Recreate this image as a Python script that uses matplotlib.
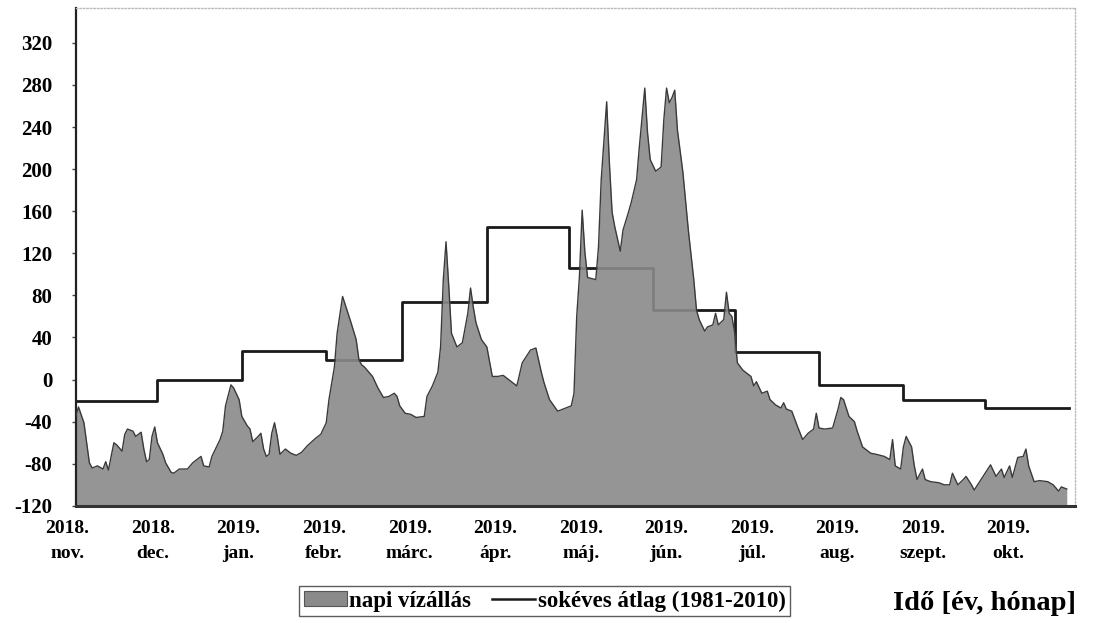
import matplotlib
matplotlib.use('Agg')
import matplotlib.pyplot as plt
from matplotlib.patches import Patch
from matplotlib.lines import Line2D
import numpy as np

# napi vízállás (cm), nap = napok 2018. nov. 1. óta
nap = [0, 1, 3, 5, 6, 8, 10, 11, 12, 13, 14, 15, 17, 18, 19, 21, 22, 24, 25, 26,
       27, 28, 29, 30, 32, 33, 35, 36, 38, 41, 43, 44, 46, 47, 49, 50, 53, 54, 55, 57,
       58, 60, 61, 63, 64, 65, 67, 68, 69, 70, 71, 72, 73, 74, 75, 77, 79, 81, 83, 85,
       88, 90, 92, 93, 95, 96, 98, 99, 101, 103, 104, 105, 106, 107, 109, 111, 113, 115, 117, 118,
       119, 121, 123, 125, 128, 129, 131, 133, 134, 135, 136, 137, 138, 140, 142, 144, 145, 146, 147, 149,
       151, 153, 155, 157, 160, 162, 164, 167, 169, 171, 172, 174, 177, 179, 182, 183, 184, 185, 186, 187,
       188, 191, 192, 193, 195, 196, 197, 198, 200, 201, 203, 204, 206, 207, 209, 210, 211, 213, 215, 216,
       217, 218, 219, 220, 221, 223, 225, 227, 228, 229, 231, 232, 234, 235, 236, 238, 239, 240, 241, 242,
       243, 245, 248, 249, 250, 252, 254, 255, 257, 259, 260, 261, 263, 265, 267, 269, 271, 272, 273, 275,
       278, 280, 281, 282, 284, 286, 287, 289, 292, 294, 297, 299, 300, 301, 303, 304, 305, 307, 308, 309,
       311, 312, 314, 317, 319, 321, 322, 324, 326, 327, 329, 330, 332, 334, 336, 338, 340, 341, 343, 344,
       346, 348, 349, 350, 352, 354, 357, 359, 361, 362, 364]
vizallas = [-35, -26, -41, -79, -84, -82, -85, -78, -86, -73, -60, -62, -68, -52, -47, -49, -54, -50, -66, -78,
            -76, -54, -45, -60, -71, -79, -88, -89, -85, -85, -79, -77, -73, -82, -83, -73, -57, -49, -25, -5,
            -8, -19, -35, -44, -47, -59, -54, -51, -66, -73, -71, -51, -41, -54, -71, -66, -70, -72, -69, -63,
            -56, -52, -41, -19, 12, 44, 79, 71, 55, 38, 19, 14, 12, 9, 3, -8, -17, -16, -13, -16,
            -25, -32, -33, -36, -35, -16, -6, 7, 31, 95, 131, 89, 44, 31, 35, 63, 87, 69, 54, 38,
            31, 3, 3, 4, -2, -6, 16, 28, 30, 7, -3, -19, -30, -28, -25, -13, 60, 98, 161, 121,
            97, 95, 126, 190, 264, 206, 159, 145, 122, 142, 159, 168, 190, 221, 277, 235, 209, 198, 202, 247,
            277, 263, 268, 275, 237, 197, 142, 95, 66, 57, 46, 50, 52, 63, 52, 57, 83, 63, 60, 45,
            16, 9, 3, -6, -2, -13, -11, -19, -24, -27, -22, -28, -30, -44, -57, -51, -47, -32, -46, -47,
            -46, -28, -17, -19, -35, -40, -49, -64, -70, -71, -73, -76, -57, -82, -85, -64, -54, -64, -82, -95,
            -85, -95, -97, -98, -100, -100, -89, -100, -95, -92, -100, -105, -97, -89, -81, -92, -85, -93, -82, -93,
            -74, -73, -66, -82, -97, -96, -97, -100, -106, -102, -104]

# sokéves havi átlag (1981-2010)
honap_kezdet = [0, 30, 61, 92, 120, 151, 181, 212, 242, 273, 304, 334, 365]
atlag = [-20, 0, 27, 19, 74, 145, 106, 66, 26, -5, -19, -27, -27]

honap_cimkek = ['2018.\nnov.', '2018.\ndec.', '2019.\njan.', '2019.\nfebr.',
                '2019.\nmárc.', '2019.\nápr.', '2019.\nmáj.', '2019.\njún.',
                '2019.\njúl.', '2019.\naug.', '2019.\nszept.', '2019.\nokt.']
y_tickek = list(range(-120, 321, 40))

serif = 'Liberation Serif'
fill_color = '#8a8a8a'

fig = plt.figure(figsize=(10.98, 6.23), dpi=100)
ax = fig.add_axes([0.069, 0.188, 0.91, 0.799])

# step line under the area, area slightly transparent like the original
ax.step(honap_kezdet, atlag, where='post', color='#1a1a1a', lw=2.0, zorder=1)
ax.fill_between(nap, vizallas, -120, color=fill_color, alpha=0.9, lw=0, zorder=2)
ax.plot(nap, vizallas, color='#3a3a3a', lw=1.0, zorder=3)

ax.set_yticks(y_tickek)
ax.set_yticklabels([str(v) for v in y_tickek], fontfamily=serif,
                   fontweight='bold', fontsize=15)
ax.tick_params(axis='y', length=3, width=1, pad=14, color='#444444')

# month labels are evenly spaced in the original, first one sits left of the axis
ax.set_xticks([])
for pos, cimke in zip(np.linspace(-3, 342.5, 12), honap_cimkek):
    ax.annotate(cimke, xy=(pos, 0), xycoords=('data', 'axes fraction'),
                xytext=(0, -10.5), textcoords='offset points', ha='center',
                va='top', fontfamily=serif, fontweight='bold', fontsize=14,
                linespacing=1.55, annotation_clip=False)

ax.set_xlim(0, 367)
ax.set_ylim(-120, 353)

ax.spines['left'].set_linewidth(1.6)
ax.spines['left'].set_color('#222222')
ax.spines['bottom'].set_linewidth(2.2)
ax.spines['bottom'].set_color('#333333')
for s in ('top', 'right'):
    ax.spines[s].set_color('#bbbbbb')
    ax.spines[s].set_linestyle((0, (1, 1.5)))
    ax.spines[s].set_linewidth(1.0)

handles = [Patch(facecolor=fill_color, edgecolor='#555555', lw=0.8),
           Line2D([0], [0], color='#1a1a1a', lw=1.8)]
leg = fig.legend(handles, ['napi vízállás', 'sokéves átlag (1981-2010)'],
                 loc='center', bbox_to_anchor=(0.496, 0.035), ncol=2,
                 prop={'family': serif, 'weight': 'bold', 'size': 16.5},
                 frameon=True, fancybox=False, handlelength=1.9,
                 handleheight=0.6, handletextpad=0.1, columnspacing=0.9,
                 borderpad=0.2)
leg.get_frame().set_edgecolor('#333333')
leg.get_frame().set_linewidth(1.0)

fig.text(0.897, 0.032, 'Idő [év, hónap]', ha='center', va='center',
         fontfamily=serif, fontweight='bold', fontsize=20.5)

fig.savefig('out.png', dpi=100)
